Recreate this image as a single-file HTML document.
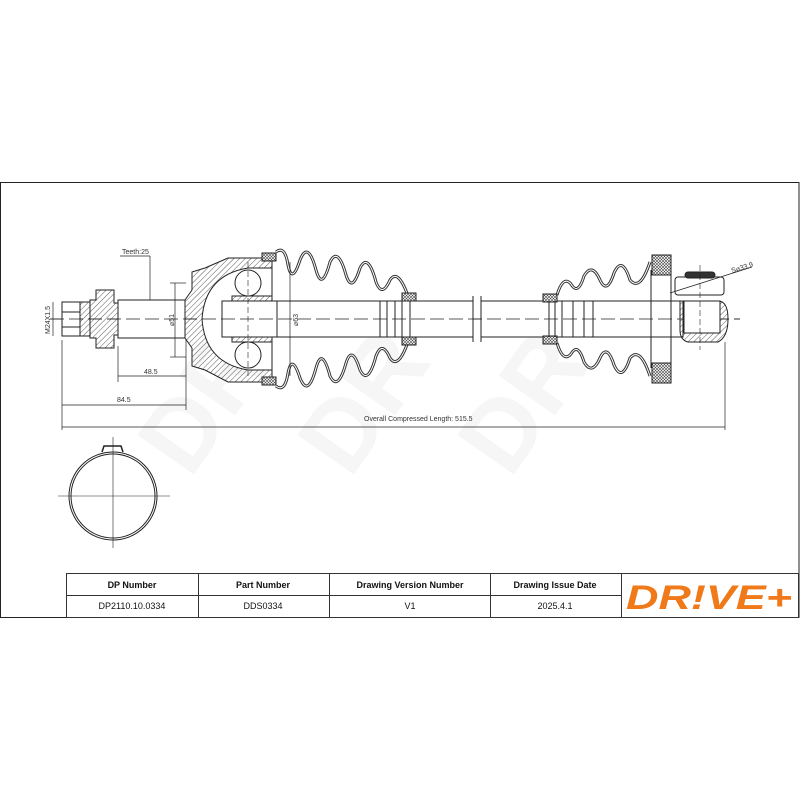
<!DOCTYPE html>
<html><head><meta charset="utf-8"><style>
html,body{margin:0;padding:0;background:#fff;}
svg{display:block}
</style></head><body>
<svg width="800" height="800" viewBox="0 0 800 800" xmlns="http://www.w3.org/2000/svg" font-family="Liberation Sans, sans-serif">
<defs>
<pattern id="h" width="4" height="4" patternUnits="userSpaceOnUse" patternTransform="rotate(45)"><line x1="0" y1="0" x2="0" y2="4" stroke="#333" stroke-width="0.8"/></pattern>
<pattern id="c" width="3" height="3" patternUnits="userSpaceOnUse"><rect width="3" height="3" fill="#fff"/><path d="M0 0L3 3M3 0L0 3" stroke="#444" stroke-width="0.6"/></pattern>
</defs>
<!-- watermark -->
<g font-size="100" font-weight="bold" fill="#f6f6f6">
<text transform="translate(190,480) rotate(-55)">DR</text>
<text transform="translate(350,480) rotate(-55)">DR</text>
<text transform="translate(510,480) rotate(-55)">DR</text>
</g>
<!-- frame -->
<rect x="0.5" y="182.5" width="798.5" height="435" fill="none" stroke="#222" stroke-width="1"/>
<g stroke="#222" fill="none" stroke-width="1">
<line x1="50" y1="319" x2="740" y2="319" stroke-dasharray="14,5" stroke-width="0.7"/>
<!-- left stub -->
<rect x="62" y="302" width="18" height="34" fill="#fff"/>
<line x1="62" y1="312" x2="80" y2="312"/><line x1="62" y1="327" x2="80" y2="327"/>
<rect x="80" y="302" width="10" height="34" fill="url(#h)"/>
<path d="M96 290h18v13h5v32h-5v13h-18v-10h-6v-38h6z" fill="url(#h)"/>
<rect x="118" y="300" width="67" height="38" fill="#fff"/>
<!-- housing -->
<path d="M185 300 L192 290 V272 L205 268 L228 258 H272 V382 H228 L205 370 L192 366 V348 L185 338 Z" fill="url(#h)"/>
<path d="M202 319 Q205 275 248 268 H272 V370 H248 Q205 363 202 319Z" fill="#fff"/>
<circle cx="248" cy="283" r="13" fill="#fff"/><circle cx="248" cy="355" r="13" fill="#fff"/>
<rect x="232" y="296" width="40" height="46" fill="url(#h)"/>
<rect x="222" y="301" width="55" height="36" fill="#fff"/>
<line x1="248" y1="262" x2="248" y2="376" stroke-dasharray="6,3" stroke-width="0.6"/>
<rect x="262" y="253" width="14" height="8" fill="url(#c)"/><rect x="262" y="377" width="14" height="8" fill="url(#c)"/>
</g>
<!-- boots -->
<g fill="none">
<g id="lb">
<path d="M276 252 Q285 245 288 265 Q292 285 300 260 Q308 240 316 270 Q322 292 330 262 Q338 246 346 275 Q352 294 360 268 Q368 252 376 282 Q382 298 390 280 Q398 268 408 296" stroke="#333" stroke-width="3"/>
<path d="M276 252 Q285 245 288 265 Q292 285 300 260 Q308 240 316 270 Q322 292 330 262 Q338 246 346 275 Q352 294 360 268 Q368 252 376 282 Q382 298 390 280 Q398 268 408 296" stroke="#fff" stroke-width="1"/>
</g>
<use href="#lb" transform="translate(0,638) scale(1,-1)"/>
<g id="rb">
<path d="M557 295 Q563 275 571 284 Q578 296 584 276 Q592 262 600 280 Q607 295 614 273 Q622 255 630 280 Q640 292 650 262" stroke="#333" stroke-width="3"/>
<path d="M557 295 Q563 275 571 284 Q578 296 584 276 Q592 262 600 280 Q607 295 614 273 Q622 255 630 280 Q640 292 650 262" stroke="#fff" stroke-width="1"/>
</g>
<use href="#rb" transform="translate(0,638) scale(1,-1)"/>
</g>
<g stroke="#222" fill="none" stroke-width="1">
<rect x="402" y="293" width="14" height="8" fill="url(#c)"/><rect x="402" y="337" width="14" height="8" fill="url(#c)"/>
<!-- shaft -->
<rect x="277" y="301" width="196" height="36" fill="#fff"/>
<line x1="380" y1="301" x2="380" y2="337"/><line x1="387" y1="301" x2="387" y2="337"/><line x1="395" y1="301" x2="395" y2="337"/><line x1="402" y1="301" x2="402" y2="337"/><line x1="410" y1="301" x2="410" y2="337"/>
<line x1="473" y1="296" x2="473" y2="342"/><line x1="481" y1="296" x2="481" y2="342"/>
<rect x="481" y="301" width="202" height="36" fill="#fff"/>
<line x1="50" y1="319" x2="740" y2="319" stroke-dasharray="14,5" stroke-width="0.7"/>
<path d="M543 294h14v8h-14z" fill="url(#c)"/><path d="M543 336h14v8h-14z" fill="url(#c)"/>
<line x1="549" y1="301" x2="549" y2="337"/><line x1="555" y1="301" x2="555" y2="337"/><line x1="562" y1="301" x2="562" y2="337"/><line x1="573" y1="301" x2="573" y2="337"/><line x1="584" y1="301" x2="584" y2="337"/><line x1="593" y1="301" x2="593" y2="337"/>
<rect x="652" y="255" width="19" height="20" fill="url(#c)"/><rect x="652" y="363" width="19" height="20" fill="url(#c)"/>
<line x1="651" y1="270" x2="651" y2="368"/><line x1="671" y1="255" x2="671" y2="383"/>
<!-- right end -->
<rect x="675" y="277" width="49" height="18" rx="3" fill="#fff"/>
<rect x="685" y="272" width="30" height="6" rx="3" fill="#333"/>
<path d="M680 301 H718 Q728 301 728 319 Q728 337 718 342 H688 Q680 340 680 330Z" fill="url(#h)"/>
<rect x="684" y="301" width="36" height="32" fill="#fff"/>
<line x1="700" y1="265" x2="700" y2="350" stroke-dasharray="6,3" stroke-width="0.6"/>
<line x1="670" y1="293" x2="752" y2="267" stroke-width="0.7"/>
<g stroke-width="0.7">
<line x1="150" y1="256" x2="150" y2="300"/><line x1="120" y1="256" x2="150" y2="256"/>
<line x1="53" y1="302" x2="53" y2="336"/>
<line x1="175" y1="283" x2="175" y2="357"/><line x1="170" y1="283" x2="186" y2="283"/><line x1="170" y1="357" x2="186" y2="357"/>
<line x1="290" y1="262" x2="290" y2="376"/>
<line x1="118" y1="346" x2="118" y2="382"/><line x1="118" y1="376" x2="186" y2="376"/>
<line x1="186" y1="340" x2="186" y2="410"/>
<line x1="62" y1="340" x2="62" y2="430"/><line x1="62" y1="405" x2="186" y2="405"/>
<line x1="62" y1="427" x2="725" y2="427"/><line x1="725" y1="342" x2="725" y2="430"/>
</g>
</g>
<g font-size="7" fill="#333">
<text x="122" y="254">Teeth:25</text>
<text x="144" y="374">48.5</text>
<text x="117" y="402">84.5</text>
<text x="364" y="421">Overall  Compressed  Length: 515.5</text>
<text x="732" y="273" transform="rotate(-17 732 273)">S⌀33.9</text>
<text transform="translate(50,334) rotate(-90)">M24X1.5</text>
<text transform="translate(174,326) rotate(-90)">⌀51</text>
<text transform="translate(298,326) rotate(-90)">⌀63</text>
</g>
<g fill="none" stroke="#222">
<circle cx="113" cy="496" r="44" stroke-width="1"/>
<circle cx="113" cy="496" r="42" stroke-width="1"/>
<path d="M102 452 l2 -6 h17 l2 6" stroke-width="1.5"/>
<line x1="58" y1="496" x2="170" y2="496" stroke-width="0.6"/>
<line x1="113" y1="437" x2="113" y2="548" stroke-width="0.6"/>
</g>
<g stroke="#333" stroke-width="1" fill="none">
<rect x="66.5" y="573.5" width="732" height="44"/>
<line x1="66" y1="595.5" x2="621" y2="595.5"/>
<line x1="198.5" y1="573" x2="198.5" y2="617"/><line x1="329.5" y1="573" x2="329.5" y2="617"/><line x1="490.5" y1="573" x2="490.5" y2="617"/><line x1="621.5" y1="573" x2="621.5" y2="617"/>
</g>
<g font-size="9" text-anchor="middle" fill="#111">
<text x="132" y="588" font-weight="bold">DP Number</text>
<text x="263" y="588" font-weight="bold">Part Number</text>
<text x="410" y="588" font-weight="bold">Drawing Version Number</text>
<text x="555" y="588" font-weight="bold">Drawing Issue Date</text>
<text x="132" y="609">DP2110.10.0334</text>
<text x="263" y="609">DDS0334</text>
<text x="410" y="609">V1</text>
<text x="555" y="609">2025.4.1</text>
</g>
<text x="626" y="609" font-size="34" font-weight="bold" font-style="italic" fill="#f07a1a" textLength="166" lengthAdjust="spacingAndGlyphs">DR!VE+</text>
</svg>
</body></html>
